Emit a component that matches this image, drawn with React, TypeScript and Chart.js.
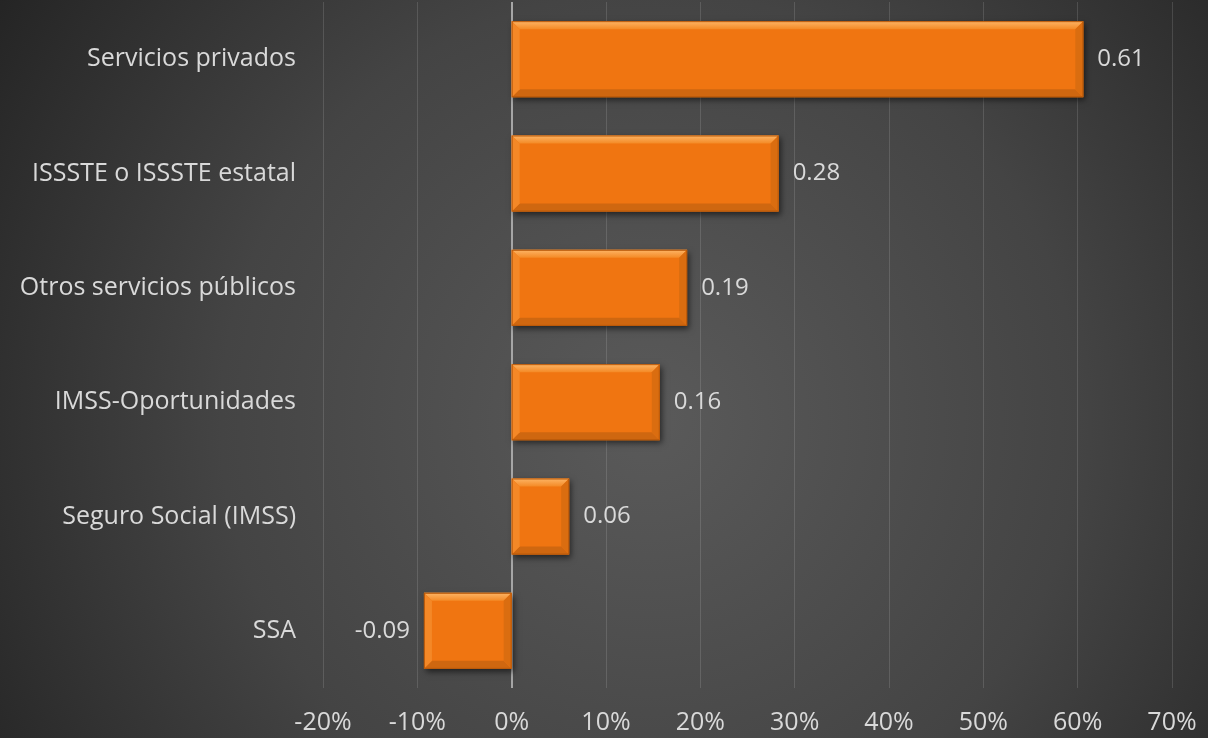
import React, { useEffect, useRef } from 'react';
import { Chart, registerables } from 'chart.js';

Chart.register(...registerables);

const categories = [
  'Servicios privados',
  'ISSSTE o ISSSTE estatal',
  'Otros servicios públicos',
  'IMSS-Oportunidades',
  'Seguro Social (IMSS)',
  'SSA',
];
const values = [0.606, 0.283, 0.186, 0.157, 0.061, -0.093];
const axisMin = -0.2;
const axisMax = 0.7;
const axisStep = 0.1;

const FONT = '"Open Sans", sans-serif';
const TEXT = '#D9D9D9';

const bgPlugin = {
  id: 'bg',
  beforeDraw(chart: any) {
    const { ctx, width, height } = chart;
    ctx.save();
    const g = ctx.createRadialGradient(650, 420, 0, 650, 420, 780);
    g.addColorStop(0, '#5a5a5a');
    g.addColorStop(0.55, '#444444');
    g.addColorStop(1, '#242424');
    ctx.fillStyle = g;
    ctx.fillRect(0, 0, width, height);
    ctx.restore();
  },
};

const bevelPlugin = {
  id: 'bevel',
  beforeDatasetsDraw(chart: any) {
    const ctx = chart.ctx;
    ctx.save();
    ctx.shadowColor = 'rgba(0,0,0,0.55)';
    ctx.shadowBlur = 6;
    ctx.shadowOffsetX = 2;
    ctx.shadowOffsetY = 3;
  },
  afterDatasetsDraw(chart: any) {
    const ctx = chart.ctx;
    ctx.restore();
    const meta = chart.getDatasetMeta(0);
    meta.data.forEach((bar: any, i: number) => {
      const p = bar.getProps(['x', 'y', 'base', 'height'], true);
      const l = Math.min(p.x, p.base);
      const r = Math.max(p.x, p.base);
      const t = p.y - p.height / 2;
      const b = p.y + p.height / 2;
      const s = 8;
      const poly = (pts: number[][], fill: any) => {
        ctx.beginPath();
        ctx.moveTo(pts[0][0], pts[0][1]);
        for (let k = 1; k < pts.length; k++) ctx.lineTo(pts[k][0], pts[k][1]);
        ctx.closePath();
        ctx.fillStyle = fill;
        ctx.fill();
      };
      ctx.save();
      const tg = ctx.createLinearGradient(0, t, 0, t + s);
      tg.addColorStop(0, '#FDB566');
      tg.addColorStop(1, '#F48A26');
      poly([[l, t], [r, t], [r - s, t + s], [l + s, t + s]], tg);
      poly([[l, b], [r, b], [r - s, b - s], [l + s, b - s]], '#CF6710');
      poly([[l, t], [l + s, t + s], [l + s, b - s], [l, b]], '#F48827');
      poly([[r, t], [r - s, t + s], [r - s, b - s], [r, b]], '#DA6D10');
      ctx.strokeStyle = '#B9590A';
      ctx.lineWidth = 1;
      ctx.strokeRect(l + 0.5, t + 0.5, r - l - 1, b - t - 1);
      const v = values[i];
      ctx.fillStyle = TEXT;
      ctx.font = `24px ${FONT}`;
      ctx.textBaseline = 'middle';
      if (v >= 0) {
        ctx.textAlign = 'left';
        ctx.fillText(v.toFixed(2), r + 14, p.y);
      } else {
        ctx.textAlign = 'right';
        ctx.fillText(v.toFixed(2), l - 14, p.y);
      }
      ctx.restore();
    });
  },
};

export default function App() {
  const ref = useRef<HTMLCanvasElement | null>(null);
  useEffect(() => {
    if (!ref.current) return;
    const chart = new Chart(ref.current, {
      type: 'bar',
      data: {
        labels: categories,
        datasets: [
          {
            data: values,
            backgroundColor: '#F07511',
            borderWidth: 0,
            categoryPercentage: 1,
            barPercentage: 0.665,
          },
        ],
      },
      options: {
        indexAxis: 'y',
        responsive: false,
        animation: false,
        devicePixelRatio: 1,
        layout: { padding: { top: 2, right: 36, left: 0, bottom: 0 } },
        plugins: {
          legend: { display: false },
          tooltip: { enabled: false },
          title: { display: false },
        },
        scales: {
          x: {
            min: axisMin,
            max: axisMax,
            ticks: {
              stepSize: axisStep,
              color: TEXT,
              font: { family: FONT, size: 25 },
              padding: 20,
              callback: (v: any) => `${Math.round(Number(v) * 100)}%`,
            },
            grid: {
              drawTicks: false,
              color: (c: any) => (c.tick && Math.abs(c.tick.value) < 1e-9 ? '#A6A6A6' : 'rgba(255,255,255,0.13)'),
              lineWidth: (c: any) => (c.tick && Math.abs(c.tick.value) < 1e-9 ? 2 : 1),
            },
            border: { display: false },
            afterFit: (s: any) => {
              s.height = 50;
              s.paddingLeft = 0;
              s.paddingRight = 0;
            },
          },
          y: {
            ticks: {
              color: TEXT,
              font: { family: FONT, size: 25 },
              padding: 27,
            },
            grid: { display: false, drawTicks: false },
            border: { display: false },
            afterFit: (s: any) => {
              s.width = 323;
              s.paddingTop = 0;
              s.paddingBottom = 0;
            },
          },
        },
      },
      plugins: [bgPlugin, bevelPlugin],
    });
    return () => chart.destroy();
  }, []);
  return (
    <div style={{ position: 'fixed', left: 0, top: 0, width: 1208, height: 738 }}>
      <canvas ref={ref} width={1208} height={738} />
    </div>
  );
}
